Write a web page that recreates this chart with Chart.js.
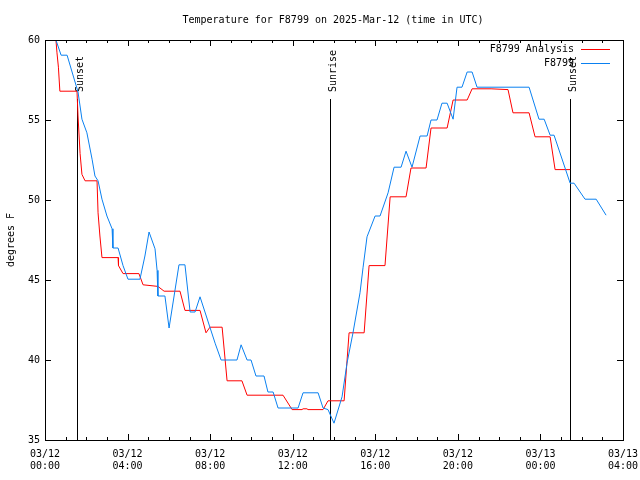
<!DOCTYPE html>
<html lang="en">
<head>
<meta charset="UTF-8">
<title>Temperature for F8799</title>
<script src="https://cdn.jsdelivr.net/npm/chart.js"></script>
<style>
  html, body { margin: 0; padding: 0; background: #fff; }
  #wrap { width: 640px; height: 480px; }
</style>
</head>
<body>
<div id="wrap"><canvas id="tempChart" width="640" height="480"></canvas></div>
<script>
// hours since 03/12 00:00 UTC
const analysisHours = [0, 0.53, 0.58, 0.65, 0.72, 1.55, 1.60, 1.70, 1.79, 1.94, 2.52, 2.57, 2.66, 2.76, 3.54, 3.56, 3.78, 4.55, 4.75, 5.47, 5.77, 6.54, 6.78, 7.51, 7.80, 7.99, 8.58, 8.82, 9.54, 9.79, 11.53, 11.97, 12.45, 12.50, 12.69, 12.74, 13.47, 13.71, 14.49, 14.73, 15.46, 15.70, 16.47, 16.72, 17.49, 17.73, 18.46, 18.70, 19.48, 19.77, 20.45, 20.69, 21.61, 22.43, 22.67, 23.45, 23.74, 24.47, 24.71, 25.44];
const analysisTemps = [60, 60, 59.2, 58.3, 56.8, 56.8, 55.25, 52.9, 51.6, 51.2, 51.2, 49.2, 47.75, 46.4, 46.4, 45.9, 45.4, 45.4, 44.7, 44.6, 44.3, 44.3, 43.1, 43.1, 41.7, 42.05, 42.05, 38.7, 38.7, 37.8, 37.8, 36.9, 36.9, 36.95, 36.95, 36.9, 36.9, 37.45, 37.45, 41.7, 41.7, 45.9, 45.9, 50.2, 50.2, 52.0, 52.0, 54.5, 54.5, 56.25, 56.25, 56.95, 56.95, 56.9, 55.45, 55.45, 53.95, 53.95, 51.9, 51.9];

const obsHours = [0, 0.53, 0.78, 1.07, 1.60, 1.79, 2.03, 2.28, 2.42, 2.57, 2.76, 3.00, 3.25, 3.29, 3.54, 3.78, 4.02, 4.60, 4.84, 5.04, 5.33, 5.43, 5.47, 5.81, 6.01, 6.49, 6.78, 7.03, 7.27, 7.51, 8.24, 8.53, 9.30, 9.50, 9.79, 9.98, 10.22, 10.61, 10.80, 11.05, 11.29, 12.26, 12.50, 13.23, 13.47, 13.71, 14.00, 14.39, 14.63, 14.92, 15.26, 15.41, 15.60, 15.99, 16.23, 16.62, 16.91, 17.25, 17.49, 17.78, 18.17, 18.51, 18.70, 18.99, 19.23, 19.48, 19.77, 19.96, 20.20, 20.45, 20.69, 20.93, 23.45, 23.93, 24.18, 24.47, 24.66, 25.44, 25.63, 26.16, 26.70, 27.18];
const obsTemps = [60, 60, 59.05, 59.05, 56.75, 55.05, 54.2, 52.55, 51.5, 51.2, 50.05, 49.0, 48.2, 47.0, 47.0, 45.9, 45.05, 45.05, 46.5, 48.0, 46.95, 45.6, 44.0, 44.0, 42.0, 45.95, 45.95, 43.0, 43.0, 43.95, 41.05, 40.0, 40.0, 40.95, 40.0, 40.0, 39.0, 39.0, 38.0, 38.0, 37.0, 37.0, 37.95, 37.95, 37.0, 36.9, 36.05, 37.7, 39.8, 41.7, 44.2, 45.8, 47.7, 49.0, 49.0, 50.45, 52.05, 52.05, 53.05, 52.05, 54.0, 54.0, 55.0, 55.0, 56.05, 56.05, 55.05, 57.05, 57.05, 58.0, 58.0, 57.05, 57.05, 55.05, 55.05, 54.05, 54.05, 51.05, 51.05, 50.05, 50.05, 49.05];

const eventHours = [1.55, 13.81, 25.43];
const eventNames = ['Sunset', 'Sunrise', 'Sunset'];

const xTickLabels = [['03/12', '00:00'], ['03/12', '04:00'], ['03/12', '08:00'], ['03/12', '12:00'], ['03/12', '16:00'], ['03/12', '20:00'], ['03/13', '00:00'], ['03/13', '04:00']];

const FONT = '"DejaVu Sans Mono", monospace';

const gnuplotFrame = {
    id: 'gnuplotFrame',
    beforeDatasetsDraw(chart) {
        const { ctx, chartArea: a, scales } = chart;
        ctx.save();
        ctx.strokeStyle = '#000';
        ctx.lineWidth = 1;
        ctx.fillStyle = '#000';
        ctx.font = '10px ' + FONT;
        eventHours.forEach((h, i) => {
            const x = Math.round(scales.x.getPixelForValue(h)) + 0.5;
            ctx.beginPath();
            ctx.moveTo(x, a.top + 59);
            ctx.lineTo(x, a.bottom);
            ctx.stroke();
            ctx.save();
            ctx.translate(x + 5, a.top + 52);
            ctx.rotate(-Math.PI / 2);
            ctx.textAlign = 'left';
            ctx.textBaseline = 'alphabetic';
            ctx.fillText(eventNames[i], 0, 0);
            ctx.restore();
        });
        ctx.restore();
    },
    afterDraw(chart) {
        const { ctx, chartArea: a, scales } = chart;
        ctx.save();
        ctx.strokeStyle = '#000';
        ctx.lineWidth = 1;
        ctx.strokeRect(a.left + 0.5, a.top + 0.5, a.right - a.left, a.bottom - a.top);
        ctx.beginPath();
        for (let h = 0; h <= 28; h++) {
            const x = Math.round(scales.x.getPixelForValue(h)) + 0.5;
            const len = h % 4 === 0 ? 6 : 3;
            ctx.moveTo(x, a.bottom); ctx.lineTo(x, a.bottom - len);
            ctx.moveTo(x, a.top); ctx.lineTo(x, a.top + len);
        }
        for (let t = 35; t <= 60; t += 5) {
            const y = Math.round(scales.y.getPixelForValue(t)) + 0.5;
            ctx.moveTo(a.left, y); ctx.lineTo(a.left + 6, y);
            ctx.moveTo(a.right, y); ctx.lineTo(a.right - 6, y);
        }
        ctx.stroke();

        // title and y label
        ctx.fillStyle = '#000';
        ctx.font = '10px ' + FONT;
        ctx.textAlign = 'center';
        ctx.textBaseline = 'middle';
        ctx.fillText('Temperature for F8799 on 2025-Mar-12 (time in UTC)', 333, 20);
        ctx.save();
        ctx.translate(11, 240);
        ctx.rotate(-Math.PI / 2);
        ctx.fillText('degrees F', 0, 0);
        ctx.restore();

        // legend, text left of sample line
        ctx.textAlign = 'right';
        chart.data.datasets.forEach((ds, i) => {
            const y = 49 + i * 14;
            ctx.fillStyle = '#000';
            ctx.fillText(ds.label, 574, y);
            ctx.strokeStyle = ds.borderColor;
            ctx.beginPath();
            ctx.moveTo(581, y + 0.5);
            ctx.lineTo(610, y + 0.5);
            ctx.stroke();
        });
        ctx.restore();
    }
};

new Chart(document.getElementById('tempChart'), {
    type: 'line',
    data: {
        datasets: [{
            label: 'F8799 Analysis',
            data: analysisHours.map((h, i) => ({ x: h, y: analysisTemps[i] })),
            borderColor: '#ff0000',
            borderWidth: 1,
            pointRadius: 0,
            tension: 0,
            order: 2
        }, {
            label: 'F8799',
            data: obsHours.map((h, i) => ({ x: h, y: obsTemps[i] })),
            borderColor: '#0a80f0',
            borderWidth: 1,
            pointRadius: 0,
            tension: 0,
            order: 1
        }]
    },
    options: {
        responsive: false,
        animation: false,
        layout: { padding: { left: 0, right: 17, top: 40, bottom: 0 } },
        plugins: {
            legend: { display: false },
            tooltip: { enabled: false }
        },
        scales: {
            x: {
                type: 'linear',
                min: 0,
                max: 28,
                afterFit(scale) {
                    scale.height = 40;
                    scale.paddingLeft = 0;
                    scale.paddingRight = 0;
                },
                grid: { display: false, drawTicks: false },
                border: { display: false },
                ticks: {
                    stepSize: 4,
                    maxRotation: 0,
                    autoSkip: false,
                    padding: 8,
                    color: '#000',
                    font: { family: FONT, size: 10 },
                    callback: (v) => xTickLabels[v / 4]
                }
            },
            y: {
                min: 35,
                max: 60,
                afterFit(scale) {
                    scale.width = 45;
                    scale.paddingTop = 0;
                    scale.paddingBottom = 0;
                },
                grid: { display: false, drawTicks: false },
                border: { display: false },
                ticks: {
                    stepSize: 5,
                    padding: 5,
                    color: '#000',
                    font: { family: FONT, size: 10 }
                }
            }
        }
    },
    plugins: [gnuplotFrame]
});
</script>
</body>
</html>
